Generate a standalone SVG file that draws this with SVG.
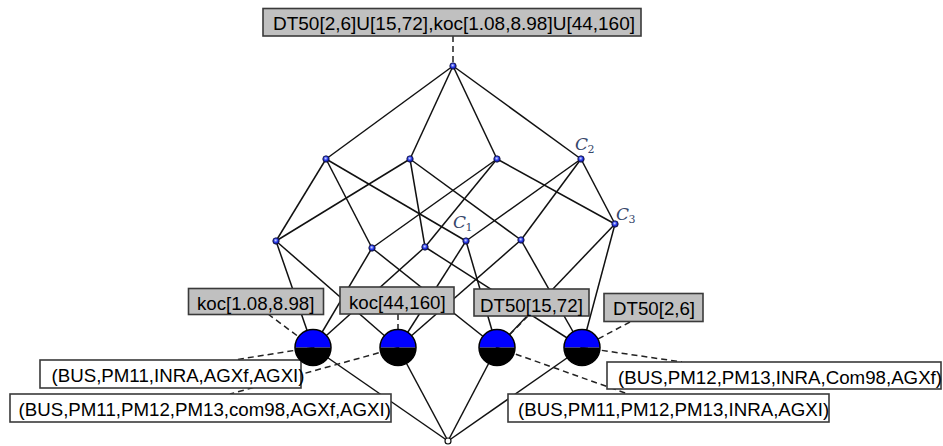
<svg xmlns="http://www.w3.org/2000/svg" width="943" height="446" viewBox="0 0 943 446">
<defs>
<radialGradient id="nodeGrad" cx="0.45" cy="0.4" r="0.6">
<stop offset="0" stop-color="#d8e0ff"/>
<stop offset="0.5" stop-color="#2a3cf0"/>
<stop offset="1" stop-color="#0a1080"/>
</radialGradient>
</defs>
<style>
.e{stroke:#111;stroke-width:1.5;fill:none}
.d{stroke:#222;stroke-width:1.5;fill:none;stroke-dasharray:6,4}
.gb{fill:#c0c0c0;stroke:#3a3a3a;stroke-width:1.6}
.wb{fill:#fff;stroke:#3a3a3a;stroke-width:1.6}
.t{font-family:"Liberation Sans",Arial,sans-serif;font-size:18.7px;fill:#000}
.n{fill:url(#nodeGrad);stroke:#101030;stroke-width:0.8}
.cl{font-family:"DejaVu Serif","Liberation Serif",serif;font-style:italic;font-size:17px;fill:#36466a}
.cs{font-family:"DejaVu Serif","Liberation Serif",serif;font-size:11px;fill:#36466a}
</style>
<g id="connectors">
<line class="e" x1="453" y1="66" x2="326" y2="159"/>
<line class="e" x1="453" y1="66" x2="410" y2="159"/>
<line class="e" x1="453" y1="66" x2="497" y2="159"/>
<line class="e" x1="453" y1="66" x2="581" y2="159"/>
<line class="e" x1="326" y1="159" x2="276" y2="241"/>
<line class="e" x1="326" y1="159" x2="372" y2="248"/>
<line class="e" x1="326" y1="159" x2="466" y2="241"/>
<line class="e" x1="410" y1="159" x2="276" y2="241"/>
<line class="e" x1="410" y1="159" x2="425" y2="247"/>
<line class="e" x1="410" y1="159" x2="521" y2="240"/>
<line class="e" x1="497" y1="159" x2="372" y2="248"/>
<line class="e" x1="497" y1="159" x2="425" y2="247"/>
<line class="e" x1="497" y1="159" x2="615" y2="224"/>
<line class="e" x1="581" y1="159" x2="466" y2="241"/>
<line class="e" x1="581" y1="159" x2="521" y2="240"/>
<line class="e" x1="581" y1="159" x2="615" y2="224"/>
<line class="e" x1="276" y1="241" x2="313" y2="347.5"/>
<line class="e" x1="276" y1="241" x2="398" y2="347.5"/>
<line class="e" x1="372" y1="248" x2="313" y2="347.5"/>
<line class="e" x1="372" y1="248" x2="497" y2="347.5"/>
<line class="e" x1="425" y1="247" x2="313" y2="347.5"/>
<line class="e" x1="425" y1="247" x2="582" y2="347.5"/>
<line class="e" x1="466" y1="241" x2="398" y2="347.5"/>
<line class="e" x1="466" y1="241" x2="497" y2="347.5"/>
<line class="e" x1="521" y1="240" x2="398" y2="347.5"/>
<line class="e" x1="521" y1="240" x2="582" y2="347.5"/>
<line class="e" x1="615" y1="224" x2="497" y2="347.5"/>
<line class="e" x1="615" y1="224" x2="582" y2="347.5"/>
<line class="e" x1="313" y1="347.5" x2="448" y2="441"/>
<line class="e" x1="398" y1="347.5" x2="448" y2="441"/>
<line class="e" x1="497" y1="347.5" x2="448" y2="441"/>
<line class="e" x1="582" y1="347.5" x2="448" y2="441"/>
<line class="d" x1="453" y1="36" x2="453" y2="66"/>
<line class="d" x1="268" y1="314" x2="313" y2="347.5"/>
<line class="d" x1="398" y1="314" x2="398" y2="347.5"/>
<line class="d" x1="528" y1="316" x2="497" y2="347.5"/>
<line class="d" x1="630" y1="322" x2="582" y2="347.5"/>
<line class="d" x1="313" y1="347.5" x2="234" y2="360"/>
<line class="d" x1="398" y1="347.5" x2="230" y2="394"/>
<line class="d" x1="497" y1="347.5" x2="628" y2="394"/>
<line class="d" x1="582" y1="347.5" x2="682" y2="362"/>
</g>
<g id="label-top">
<rect class="gb" x="263" y="8.5" width="378" height="27.5"/>
<text class="t" x="273" y="30" textLength="362" lengthAdjust="spacingAndGlyphs" style="font-size:19px">DT50[2,6]U[15,72],koc[1.08,8.98]U[44,160]</text>
</g>
<g id="label-koc1">
<rect class="gb" x="188.5" y="288.5" width="135" height="26"/>
<text class="t" x="197" y="309.5">koc[1.08,8.98]</text>
</g>
<g id="label-koc2">
<rect class="gb" x="340" y="287" width="114" height="27"/>
<text class="t" x="349" y="309">koc[44,160]</text>
</g>
<g id="label-dt1">
<rect class="gb" x="474" y="289" width="115" height="27"/>
<text class="t" x="480" y="311.5">DT50[15,72]</text>
</g>
<g id="label-dt2">
<rect class="gb" x="604" y="293.5" width="99" height="28"/>
<text class="t" x="613" y="315">DT50[2,6]</text>
</g>
<g id="label-ext1">
<rect class="wb" x="40" y="360" width="261" height="28"/>
<text class="t" x="51.5" y="382">(BUS,PM11,INRA,AGXf,AGXI)</text>
</g>
<g id="label-ext2">
<rect class="wb" x="10" y="394" width="381" height="28"/>
<text class="t" x="18.5" y="415.5">(BUS,PM11,PM12,PM13,com98,AGXf,AGXI)</text>
</g>
<g id="label-ext3">
<rect class="wb" x="607" y="362" width="334" height="27"/>
<text class="t" x="618" y="384">(BUS,PM12,PM13,INRA,Com98,AGXf)</text>
</g>
<g id="label-ext4">
<rect class="wb" x="508" y="394" width="321" height="28"/>
<text class="t" x="518" y="415.5">(BUS,PM11,PM12,PM13,INRA,AGXI)</text>
</g>
<g id="node-top"><circle class="n" cx="453" cy="66" r="3.2"/></g>
<g id="node-a"><circle class="n" cx="326" cy="159" r="3.2"/></g>
<g id="node-b"><circle class="n" cx="410" cy="159" r="3.2"/></g>
<g id="node-c"><circle class="n" cx="497" cy="159" r="3.2"/></g>
<g id="node-c2"><circle class="n" cx="581" cy="159" r="3.2"/>
<text class="cl" x="575" y="150">C</text><text class="cs" x="587.5" y="153">2</text></g>
<g id="node-p"><circle class="n" cx="276" cy="241" r="3.2"/></g>
<g id="node-q"><circle class="n" cx="372" cy="248" r="3.2"/></g>
<g id="node-r"><circle class="n" cx="425" cy="247" r="3.2"/></g>
<g id="node-c1"><circle class="n" cx="466" cy="241" r="3.2"/>
<text class="cl" x="453" y="228">C</text><text class="cs" x="465.5" y="231">1</text></g>
<g id="node-t"><circle class="n" cx="521" cy="240" r="3.2"/></g>
<g id="node-c3"><circle class="n" cx="615" cy="224" r="3.2"/>
<text class="cl" x="616" y="220">C</text><text class="cs" x="628.5" y="223">3</text></g>
<g id="circle-w">
<path d="M295,347.5 A18,18 0 0 1 331,347.5 Z" fill="#0000ff"/>
<path d="M295,347.5 A18,18 0 0 0 331,347.5 Z" fill="#000"/>
<circle cx="313" cy="347.5" r="18" fill="none" stroke="#000" stroke-width="1.5"/>
</g>
<g id="circle-x">
<path d="M380,347.5 A18,18 0 0 1 416,347.5 Z" fill="#0000ff"/>
<path d="M380,347.5 A18,18 0 0 0 416,347.5 Z" fill="#000"/>
<circle cx="398" cy="347.5" r="18" fill="none" stroke="#000" stroke-width="1.5"/>
</g>
<g id="circle-y">
<path d="M479,347.5 A18,18 0 0 1 515,347.5 Z" fill="#0000ff"/>
<path d="M479,347.5 A18,18 0 0 0 515,347.5 Z" fill="#000"/>
<circle cx="497" cy="347.5" r="18" fill="none" stroke="#000" stroke-width="1.5"/>
</g>
<g id="circle-z">
<path d="M564,347.5 A18,18 0 0 1 600,347.5 Z" fill="#0000ff"/>
<path d="M564,347.5 A18,18 0 0 0 600,347.5 Z" fill="#000"/>
<circle cx="582" cy="347.5" r="18" fill="none" stroke="#000" stroke-width="1.5"/>
</g>
<g id="node-bottom"><circle cx="448" cy="441" r="3" fill="#fff" stroke="#111" stroke-width="1.2"/></g>
</svg>
